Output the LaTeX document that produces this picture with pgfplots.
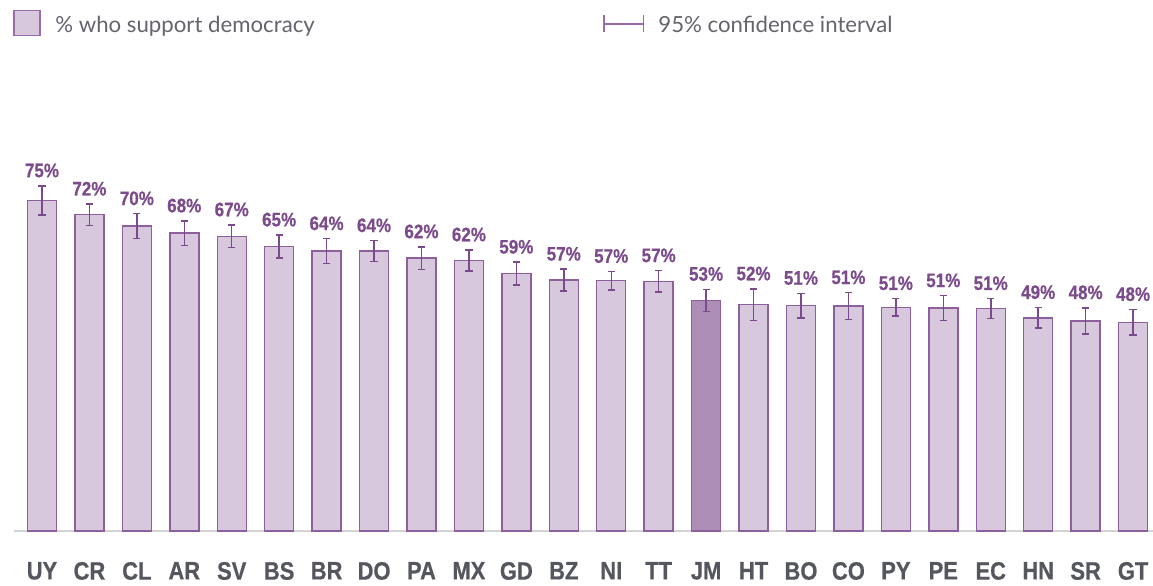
\documentclass[border=0pt]{standalone}
\usepackage{pgfplots}
\pgfplotsset{compat=1.18}
\usepackage{pgfplotstable}
\usepackage{fontspec}
\setmainfont{Lato}
\newfontfamily\labfont[FakeStretch=0.87, FakeBold=0.6]{Liberation Sans Bold}
\definecolor{barfill}{HTML}{D8C8DD}
\definecolor{bardraw}{HTML}{8E5F9D}
\definecolor{jmfill}{HTML}{AD8EB7}
\definecolor{errc}{HTML}{7A4A8C}
\definecolor{labc}{HTML}{7B4B8B}
\definecolor{tickc}{HTML}{55575E}
\definecolor{legc}{HTML}{63646C}
\definecolor{basec}{HTML}{D3D3D3}
\definecolor{legline}{HTML}{9A6AAB}

\pgfplotstableread{
x val err lab
0 75.4 3.3 75
1 72.1 2.45 72
2 69.5 2.85 70
3 67.9 2.8 68
4 67.2 2.6 67
5 64.9 2.6 65
6 63.8 2.85 64
7 63.8 2.4 64
8 62.2 2.6 62
9 61.7 2.4 62
10 58.7 2.6 59
11 57.2 2.5 57
12 57.1 2.1 57
13 56.9 2.45 57
15 51.6 3.6 52
16 51.4 2.8 51
17 51.3 3.05 51
18 51.0 2.0 51
19 50.8 2.85 51
20 50.7 2.3 51
21 48.6 2.35 49
22 47.9 3.0 48
23 47.6 2.9 48
}\maindata

\pgfplotstableread{
x val err lab
14 52.6 2.5 53
}\jmdata

\begin{document}
\begin{tikzpicture}
\path[use as bounding box] (0,0) rectangle (576.5pt,292.5pt);
\begin{axis}[
  at={(7pt,27pt)}, anchor=south west,
  scale only axis, width=569.5pt, height=265.5pt,
  xmin=-0.59, xmax=23.42, ymin=0, ymax=121.07,
  axis x line=bottom, axis y line=none,
  x axis line style={-, draw=basec, line width=0.8pt},
  xtick={0,...,23},
  xticklabels={UY,CR,CL,AR,SV,BS,BR,DO,PA,MX,GD,BZ,NI,TT,JM,HT,BO,CO,PY,PE,EC,HN,SR,GT},
  major tick length=0pt,
  xticklabel style={font=\labfont\fontsize{12.6}{14}\selectfont, text=tickc, yshift=-12pt},
  clip=false,
]
\addplot[ybar, bar width=14.5pt, bar shift=0pt, fill=barfill, draw=bardraw, line width=0.7pt,
  error bars/.cd, y dir=both, y explicit,
  error bar style={errc, line width=0.75pt},
  error mark options={errc, line width=0.75pt, mark size=1.8pt, rotate=90}]
  table[x=x, y=val, y error=err]{\maindata};
\addplot[ybar, bar width=14.5pt, bar shift=0pt, fill=jmfill, draw=bardraw, line width=0.7pt,
  error bars/.cd, y dir=both, y explicit,
  error bar style={errc, line width=0.75pt},
  error mark options={errc, line width=0.75pt, mark size=1.8pt, rotate=90}]
  table[x=x, y=val, y error=err]{\jmdata};
\addplot[draw=none, mark=none, nodes near coords={\pgfplotspointmeta\%}, point meta=explicit symbolic,
  every node near coord/.append style={anchor=south, inner sep=0pt, yshift=4pt,
    font=\labfont\fontsize{9.8}{11}\selectfont, text=labc}]
  table[x=x, y expr=\thisrow{val}+\thisrow{err}, meta=lab]{\maindata};
\addplot[draw=none, mark=none, nodes near coords={\pgfplotspointmeta\%}, point meta=explicit symbolic,
  every node near coord/.append style={anchor=south, inner sep=0pt, yshift=4pt,
    font=\labfont\fontsize{9.8}{11}\selectfont, text=labc}]
  table[x=x, y expr=\thisrow{val}+\thisrow{err}, meta=lab]{\jmdata};
\end{axis}
\draw[draw=legline, fill=barfill, line width=0.6pt] (7pt,274.65pt) rectangle (20pt,287.15pt);
\node[anchor=base west, inner sep=0pt, text=legc, font=\fontsize{11.1}{13}\selectfont] at (27.5pt,276.3pt) {\% who support democracy};
\draw[legline, line width=0.7pt] (302pt,280.5pt) -- (321.7pt,280.5pt);
\draw[legline, line width=0.7pt] (302pt,276.7pt) -- (302pt,285pt);
\draw[legline, line width=0.7pt] (321.7pt,276.7pt) -- (321.7pt,285pt);
\node[anchor=base west, inner sep=0pt, text=legc, font=\fontsize{11.1}{13}\selectfont] at (329pt,276.3pt) {95\% confidence interval};
\end{tikzpicture}
\end{document}
